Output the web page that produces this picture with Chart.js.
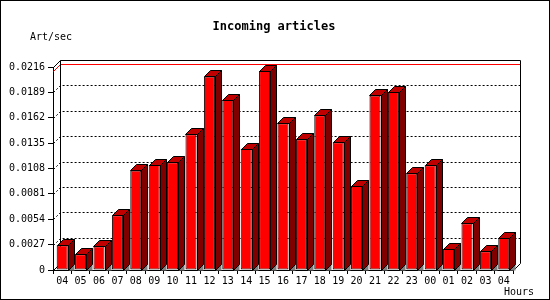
<!DOCTYPE html>
<html>
<head>
<meta charset="utf-8">
<title>Incoming articles</title>
<script src="https://cdn.jsdelivr.net/npm/chart.js@4/dist/chart.umd.min.js"></script>
<style>
  body { margin: 0; background: #ffffff; }
  canvas { display: block; }
</style>
</head>
<body>
<canvas id="articlesChart" width="550" height="300"></canvas>
<script>
// Hours shown on the x axis
const hours = ['04', '05', '06', '07', '08', '09', '10', '11', '12', '13', '14', '15', '16',
  '17', '18', '19', '20', '21', '22', '23', '00', '01', '02', '03', '04'];

// Incoming articles per second for each hour
const artPerSec = [0.00263, 0.00167, 0.00252, 0.00582, 0.0106, 0.01117, 0.01146, 0.01444,
  0.0206, 0.0181, 0.0129, 0.02117, 0.01561, 0.0139, 0.01646, 0.01359, 0.00894, 0.01858,
  0.01894, 0.01029, 0.01114, 0.00223, 0.00497, 0.00199, 0.0034];

// Y axis tick labels
const yTicks = [0, 0.0027, 0.0054, 0.0081, 0.0108, 0.0135, 0.0162, 0.0189, 0.0216];

const planeDepth = 7; // depth of the back plane
const barDepth = 6;   // depth of each 3D bar
const backRight = 520;
const monoFont = '"DejaVu Sans Mono", "Liberation Mono", monospace';

// Draws back plane, dotted grid and max line behind the bars
const backPlane = {
  id: 'backPlane',
  beforeDatasetsDraw(chart) {
    const { ctx, chartArea } = chart;
    const y = chart.scales.y;
    const left = chartArea.left;
    const bottom = chartArea.bottom;
    const top = chartArea.top;
    ctx.save();
    ctx.lineWidth = 1;
    ctx.strokeStyle = '#000000';

    // dotted grid lines, with their diagonal into the depth
    ctx.setLineDash([2, 2]);
    yTicks.forEach((v) => {
      if (v === 0 || v === yTicks[yTicks.length - 1]) return;
      const py = Math.round(y.getPixelForValue(v)) + 0.5;
      ctx.beginPath();
      ctx.moveTo(left + 0.5, py);
      ctx.lineTo(left + planeDepth + 0.5, py - planeDepth);
      ctx.lineTo(backRight, py - planeDepth);
      ctx.stroke();
    });
    ctx.setLineDash([]);

    // red line at the highest value
    const maxY = Math.round(y.getPixelForValue(Math.max(...artPerSec))) + 0.5;
    ctx.strokeStyle = '#ff0000';
    ctx.beginPath();
    ctx.moveTo(left + 0.5, maxY);
    ctx.lineTo(left + planeDepth + 0.5, maxY - planeDepth);
    ctx.lineTo(backRight, maxY - planeDepth);
    ctx.stroke();

    // back plane frame
    ctx.strokeStyle = '#000000';
    ctx.beginPath();
    ctx.moveTo(left + planeDepth + 0.5, bottom - planeDepth);
    ctx.lineTo(left + planeDepth + 0.5, top - planeDepth + 0.5);
    ctx.lineTo(backRight + 0.5, top - planeDepth + 0.5);
    ctx.lineTo(backRight + 0.5, bottom - planeDepth + 0.5);
    ctx.lineTo(chartArea.right + 0.5, bottom + 0.5);
    ctx.moveTo(left + 0.5, top + 0.5);
    ctx.lineTo(left + planeDepth + 0.5, top - planeDepth + 0.5);
    ctx.moveTo(left + 0.5, bottom + 0.5);
    ctx.lineTo(left + planeDepth + 0.5, bottom - planeDepth + 0.5);
    ctx.stroke();
    ctx.restore();
  }
};

// Adds top face, side face and floor shadow to each bar
const bars3d = {
  id: 'bars3d',
  afterDatasetsDraw(chart) {
    const { ctx } = chart;
    const meta = chart.getDatasetMeta(0);
    ctx.save();
    ctx.lineWidth = 1;
    ctx.strokeStyle = '#000000';
    meta.data.forEach((bar) => {
      const { x, y, base, width } = bar.getProps(['x', 'y', 'base', 'width'], true);
      const l = Math.round(x - width / 2) + 0.5;
      const r = Math.round(x + width / 2) + 0.5;
      const t = Math.round(y) + 0.5;
      const b = Math.round(base) + 0.5;
      const d = barDepth;

      // floor shadow
      ctx.fillStyle = '#808080';
      ctx.beginPath();
      ctx.moveTo(r, b);
      ctx.lineTo(r + d, b - d);
      ctx.lineTo(r + d, b);
      ctx.closePath();
      ctx.fill();

      // side face
      ctx.fillStyle = '#800000';
      ctx.beginPath();
      ctx.moveTo(r, t);
      ctx.lineTo(r + d, t - d);
      ctx.lineTo(r + d, b - d);
      ctx.lineTo(r, b);
      ctx.closePath();
      ctx.fill();
      ctx.stroke();

      // top face
      ctx.fillStyle = '#c00000';
      ctx.beginPath();
      ctx.moveTo(l, t);
      ctx.lineTo(l + d, t - d);
      ctx.lineTo(r + d, t - d);
      ctx.lineTo(r, t);
      ctx.closePath();
      ctx.fill();
      ctx.stroke();
    });
    ctx.restore();
  }
};

// Title, axis titles and the image border
const texts = {
  id: 'texts',
  afterDraw(chart) {
    const { ctx } = chart;
    ctx.save();
    ctx.fillStyle = '#000000';
    ctx.textBaseline = 'middle';
    ctx.textAlign = 'center';
    ctx.font = 'bold 12px ' + monoFont;
    ctx.fillText('Incoming articles', 274, 27);
    ctx.font = '10px ' + monoFont;
    ctx.textAlign = 'left';
    ctx.fillText('Art/sec', 30, 37);
    ctx.textAlign = 'right';
    ctx.fillText('Hours', 534, 292);
    ctx.strokeStyle = '#000000';
    ctx.lineWidth = 1;
    ctx.strokeRect(0.5, 0.5, 549, 299);
    ctx.restore();
  }
};

new Chart(document.getElementById('articlesChart').getContext('2d'), {
  type: 'bar',
  data: {
    labels: hours,
    datasets: [{
      label: 'Art/sec',
      data: artPerSec,
      backgroundColor: '#ff0000',
      borderColor: '#000000',
      borderWidth: 1,
      borderSkipped: false,
      barPercentage: 0.6,
      categoryPercentage: 1
    }]
  },
  options: {
    responsive: false,
    animation: false,
    layout: { padding: { top: 67, left: 0, right: 37, bottom: 0 } },
    plugins: {
      legend: { display: false },
      title: { display: false },
      tooltip: { enabled: false }
    },
    scales: {
      x: {
        afterFit: (s) => { s.height = 30; },
        grid: { drawOnChartArea: false, color: '#000000', tickLength: 4, offset: true },
        border: { display: true, color: '#000000' },
        ticks: {
          color: '#000000',
          font: { family: monoFont, size: 10 },
          autoSkip: false,
          maxRotation: 0,
          padding: 1
        }
      },
      y: {
        min: 0,
        max: 0.0216,
        afterFit: (s) => { s.width = 53; },
        afterBuildTicks: (s) => { s.ticks = yTicks.map((v) => ({ value: v })); },
        grid: { drawOnChartArea: false, color: '#000000', tickLength: 5 },
        border: { display: true, color: '#000000' },
        ticks: {
          color: '#000000',
          font: { family: monoFont, size: 10 },
          padding: 3,
          callback: (v) => (v === 0 ? '0' : Number(v).toFixed(4))
        }
      }
    }
  },
  plugins: [backPlane, bars3d, texts]
});
</script>
</body>
</html>
